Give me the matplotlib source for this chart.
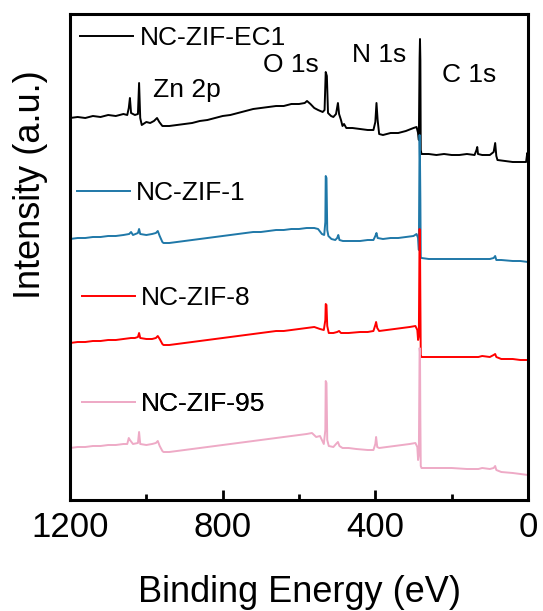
import matplotlib
matplotlib.use("Agg")
import matplotlib.pyplot as plt
from matplotlib.ticker import MultipleLocator

plt.rcParams['font.family'] = ['Liberation Sans', 'DejaVu Sans']

# Survey spectra: binding energy (eV) and offset intensity (a.u.)
e_ec1 = [1200, 1180, 1160, 1140, 1120, 1100, 1080, 1060, 1050, 1046, 1043, 1040, 1030, 1022, 1019, 1016,
         1012, 1000, 990, 980, 972, 966, 958, 940, 920, 900, 880, 860, 840, 820, 800, 780, 760, 740, 720,
         700, 680, 660, 640, 620, 600, 585, 579, 570, 560, 550, 538, 533, 530, 527, 524, 516, 510, 503,
         498, 495, 490, 486, 482, 476, 460, 440, 420, 405, 400, 397, 394, 390, 380, 360, 340, 320, 300,
         292, 288, 286, 284, 283, 282, 281, 279, 260, 240, 220, 200, 180, 160, 140, 135, 133, 131, 120,
         100, 90, 86, 83, 80, 60, 40, 20, 5, 2, 0]
i_ec1 = [382, 383, 382, 384, 383, 385, 384, 386, 385, 392, 402, 387, 385, 386, 417, 382,
         375, 378, 377, 379, 382, 378, 374, 374, 375, 376, 377, 379, 380, 382, 384, 385, 387, 389, 391,
         392, 393, 394, 394, 396, 396, 397, 399, 396, 392, 390, 388, 390, 428, 424, 387, 384, 383, 386,
         397, 386, 380, 374, 376, 372, 372, 371, 370, 370, 378, 397, 380, 366, 365, 367, 367, 369, 372,
         373, 367, 360, 442, 461, 440, 350, 346, 346, 345, 346, 345, 345, 346, 345, 350, 353, 346, 345,
         345, 348, 357, 344, 340, 339, 338, 338, 338, 347, 340]

e_zif1 = [1200, 1180, 1160, 1140, 1120, 1100, 1080, 1060, 1045, 1040, 1035, 1022, 1019, 1016, 1000, 985,
          975, 970, 965, 958, 955, 940, 920, 900, 880, 860, 840, 820, 800, 780, 760, 740, 720, 700, 680,
          660, 640, 620, 600, 580, 560, 550, 540, 534, 531, 530, 528, 526, 523, 515, 505, 500, 497, 494,
          485, 460, 440, 420, 405, 400, 397, 394, 380, 360, 340, 320, 300, 292, 288, 286, 284, 283, 282,
          281, 279, 260, 240, 200, 160, 120, 100, 90, 86, 83, 70, 40, 20, 0]
i_zif1 = [261, 262, 262, 263, 263, 264, 264, 265, 266, 268, 265, 267, 271, 266, 265, 266,
          267, 269, 264, 258, 257, 257, 258, 259, 260, 261, 262, 263, 264, 265, 266, 267, 268, 268, 269,
          270, 270, 271, 271, 272, 272, 271, 266, 265, 278, 324, 322, 270, 264, 261, 260, 262, 265, 260,
          259, 259, 259, 260, 260, 264, 267, 262, 261, 262, 262, 263, 264, 266, 262, 250, 365, 340, 300,
          243, 242, 241, 241, 241, 241, 241, 241, 242, 244, 240, 240, 239, 239, 238]

e_zif8 = [1200, 1180, 1160, 1140, 1120, 1100, 1080, 1060, 1040, 1030, 1022, 1019, 1016, 1000, 985, 975,
          970, 965, 958, 955, 940, 920, 900, 880, 860, 840, 820, 800, 780, 760, 740, 720, 700, 680, 660,
          640, 620, 600, 580, 560, 545, 535, 531, 530, 528, 526, 522, 510, 500, 495, 490, 470, 440, 420,
          405, 400, 398, 395, 390, 370, 350, 330, 310, 295, 290, 288, 286, 284, 283, 282, 281, 279, 260,
          240, 200, 160, 130, 120, 100, 90, 86, 83, 70, 40, 20, 0]
i_zif8 = [157, 158, 158, 159, 159, 160, 160, 161, 162, 162, 163, 167, 162, 161, 161, 162,
          164, 161, 156, 155, 155, 156, 157, 158, 159, 160, 161, 162, 163, 164, 165, 166, 167, 168, 169,
          169, 170, 171, 172, 173, 171, 170, 180, 196, 195, 174, 167, 167, 168, 169, 167, 167, 168, 168,
          169, 175, 178, 172, 169, 170, 171, 172, 173, 174, 170, 160, 164, 271, 260, 200, 145, 143, 143,
          143, 143, 143, 143, 144, 143, 145, 146, 143, 141, 141, 140, 140]

e_zif95 = [1200, 1180, 1160, 1140, 1120, 1100, 1080, 1060, 1050, 1046, 1043, 1035, 1022, 1019, 1016, 1000,
           985, 975, 970, 965, 958, 955, 940, 920, 900, 880, 860, 840, 820, 800, 780, 760, 740, 720, 700,
           680, 660, 640, 620, 600, 580, 566, 555, 545, 535, 531, 530, 528, 526, 522, 510, 503, 498, 494,
           486, 470, 450, 420, 405, 400, 398, 395, 390, 370, 350, 330, 310, 295, 290, 288, 286, 284, 283,
           282, 281, 279, 260, 240, 200, 160, 130, 120, 100, 90, 86, 83, 70, 40, 20, 0]
i_zif95 = [52, 53, 53, 54, 54, 55, 55, 56, 56, 62, 60, 56, 57, 68, 56, 55,
           56, 57, 59, 54, 49, 48, 48, 49, 50, 51, 52, 53, 54, 55, 56, 57, 58, 59, 60,
           61, 62, 63, 64, 65, 66, 67, 63, 64, 56, 70, 119, 117, 60, 54, 53, 56, 58, 54,
           52, 52, 51, 50, 50, 56, 63, 53, 52, 53, 54, 55, 56, 57, 53, 40, 45, 152, 148,
           80, 34, 32, 32, 32, 32, 31, 31, 32, 31, 32, 34, 30, 28, 27, 26, 25]

samples = ['NC-ZIF-EC1', 'NC-ZIF-1', 'NC-ZIF-8', 'NC-ZIF-95']
colors = ['black', '#1f78a8', '#ff0000', '#eeaac6']
energies = [e_ec1, e_zif1, e_zif8, e_zif95]
intensities = [i_ec1, i_zif1, i_zif8, i_zif95]

# peak labels: text, energy, height
peak_names = ['Zn 2p', 'O 1s', 'N 1s', 'C 1s']
peak_e = [982, 694, 461, 225]
peak_h = [410, 435, 445, 425]

# where each sample's legend sits (axes fraction)
legend_pos = [(0.022, 0.951), (0.015, 0.632), (0.026, 0.416), (0.026, 0.198)]

fig = plt.figure(figsize=(5.43, 6.11), dpi=100)
ax = fig.add_axes([70 / 543, 1 - 500 / 611, 458 / 543, 486 / 611])

lines = []
for e, i, c in zip(energies, intensities, colors):
    ln, = ax.plot(e, i, color=c, lw=1.4)
    lines.append(ln)

# one small legend next to each curve
for ln, name, pos in zip(lines, samples, legend_pos):
    leg = ax.legend([ln], [name], loc='center left', bbox_to_anchor=pos, frameon=False,
                    fontsize=19, handlelength=2.0, handletextpad=0.25,
                    borderpad=0, borderaxespad=0)
    ax.add_artist(leg)

for name, e, h in zip(peak_names, peak_e, peak_h):
    ax.text(e, h, name, fontsize=19, ha='left', va='center')

ax.set_xlim(1200, 0)
ax.set_ylim(0, 486)
ax.set_yticks([])
ax.xaxis.set_major_locator(MultipleLocator(400))
ax.xaxis.set_minor_locator(MultipleLocator(200))
ax.tick_params(axis='x', which='major', direction='in', length=7, width=2, labelsize=25, pad=8)
ax.tick_params(axis='x', which='minor', direction='in', length=4, width=2)
for s in ax.spines.values():
    s.set_linewidth(2.2)

ax.set_xlabel('Binding Energy (eV)', fontsize=26, labelpad=22)
ax.set_ylabel('Intensity (a.u.)', fontsize=26)
ax.yaxis.set_label_coords(-0.047, 0.648)

fig.savefig('out.png', dpi=100)
